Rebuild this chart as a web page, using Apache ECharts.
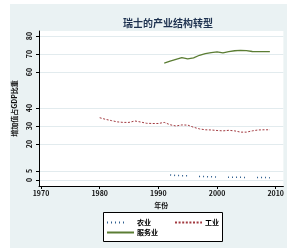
<!DOCTYPE html>
<html><head><meta charset="utf-8">
<script src="https://cdn.jsdelivr.net/npm/echarts@6/dist/echarts.min.js"></script>
<style>html,body{margin:0;padding:0;background:#fff}#c{width:287px;height:248px}</style>
</head><body><div id="c"></div>
<script>
const agriYears = [1992,1993,1994,1995,1996,1997,1998,1999,2000,2001,2002,2003,2004,2005,2006,2007,2008,2009];
const agriValues = [2.8,2.5,2.4,2.4,2.3,2.0,1.9,1.8,1.7,1.6,1.6,1.5,1.5,1.4,1.4,1.4,1.4,1.3];
const indYears = [1980,1981,1982,1983,1984,1985,1986,1987,1988,1989,1990,1991,1992,1993,1994,1995,1996,1997,1998,1999,2000,2001,2002,2003,2004,2005,2006,2007,2008,2009];
const indValues = [34.6,33.7,33.0,32.3,32.0,32.0,32.8,32.2,31.5,31.4,31.4,32.0,30.7,30.0,30.6,30.5,29.3,28.4,27.9,27.8,27.5,27.3,27.6,27.3,26.6,26.6,27.3,27.8,27.9,27.9];
const svcYears = [1991,1992,1993,1994,1995,1996,1997,1998,1999,2000,2001,2002,2003,2004,2005,2006,2007,2008,2009];
const svcValues = [65.0,66.0,67.0,68.0,67.3,67.8,69.3,70.2,70.8,71.2,70.6,71.3,71.8,72.0,71.9,71.4,71.3,71.3,71.3];
const yTicks = [0,5,20,30,40,60,70,80];
const xTicks = [1970,1980,1990,2000,2010];
const seriesNames = ['农业','工业','服务业'];
const titleText = '瑞士的产业结构转型';
const xName = '年份';
const yName = '增加值占GDP比重';

const pairs = (xs, vs) => xs.map((x, i) => [x, vs[i]]);
const font = '"Noto Sans CJK SC", "DejaVu Sans", sans-serif';
const chart = echarts.init(document.getElementById('c'), null, {renderer: 'canvas'});
const legendCommon = {
  orient: 'horizontal', itemWidth: 27, itemHeight: 6, itemGap: 23, padding: 0,
  itemStyle: {opacity: 0},
  textStyle: {fontFamily: font, fontSize: 7, color: '#000', fontWeight: 'bold', padding: [0,0,0,-2]}
};
chart.setOption({
  animation: false,
  backgroundColor: '#eaf2f3',
  graphic: [
    {type: 'rect', shape: {x: 0, y: 0, width: 287, height: 4}, style: {fill: '#fff'}, silent: true},
    {type: 'rect', shape: {x: 0, y: 0, width: 10, height: 248}, style: {fill: '#fff'}, silent: true},
    {type: 'rect', shape: {x: 103.5, y: 212.5, width: 119, height: 29}, style: {fill: '#fff', stroke: '#000', lineWidth: 1}, z: 0, silent: true}
  ],
  title: {
    text: titleText, left: 163, top: 13, textAlign: 'center',
    textStyle: {fontFamily: font, fontSize: 10, fontWeight: 'bold', color: '#1e3250'}
  },
  grid: {left: 39, right: 0, top: 31, bottom: 62, containLabel: false,
    show: true, backgroundColor: '#fff', borderWidth: 0},
  xAxis: {
    type: 'value', min: 1969.66, max: 2011.3,
    name: xName, nameLocation: 'middle', nameGap: 9,
    nameTextStyle: {fontFamily: font, fontSize: 7, color: '#111', fontWeight: 'bold'},
    axisLine: {show: true, onZero: false, lineStyle: {color: '#000', width: 1}},
    axisTick: {show: true, length: 3, customValues: xTicks, lineStyle: {color: '#000'}},
    axisLabel: {customValues: xTicks, margin: 4, formatter: v => String(v), fontFamily: font, fontSize: 7, color: '#111', fontWeight: 'bold'},
    splitLine: {show: false}
  },
  yAxis: {
    type: 'value', min: -3.33, max: 82.78,
    name: yName, nameLocation: 'middle', nameGap: 13, nameRotate: 90,
    nameTextStyle: {fontFamily: font, fontSize: 7, color: '#111', fontWeight: 'bold'},
    axisLine: {show: true, onZero: false, lineStyle: {color: '#000', width: 1}},
    axisTick: {show: true, length: 3, customValues: yTicks, lineStyle: {color: '#000'}},
    axisLabel: {customValues: yTicks, rotate: 90, margin: 6, formatter: v => String(v), fontFamily: font, fontSize: 7, color: '#111', fontWeight: 'bold'},
    splitLine: {show: true, lineStyle: {color: '#e2ebee', width: 1}}
  },
  legend: [
    Object.assign({data: [seriesNames[0], seriesNames[1]], left: 106, top: 219}, legendCommon),
    Object.assign({data: [seriesNames[2]], left: 106, top: 229}, legendCommon)
  ],
  series: [
    {name: seriesNames[0], type: 'line', data: pairs(agriYears, agriValues), showSymbol: false, symbol: 'none',
     lineStyle: {color: '#2f5f8f', width: 1.5, type: [1,3,1,3,1,3,1,3,1,12]}, itemStyle: {color: '#2f5f8f'}, z: 3},
    {name: seriesNames[1], type: 'line', data: pairs(indYears, indValues), showSymbol: false, symbol: 'none',
     lineStyle: {color: '#a23a40', width: 1, type: [2,1.6]}, itemStyle: {color: '#a23a40'}, z: 3},
    {name: seriesNames[2], type: 'line', data: pairs(svcYears, svcValues), showSymbol: false, symbol: 'none',
     lineStyle: {color: '#5b7d34', width: 1.3, type: 'solid'}, itemStyle: {color: '#5b7d34'}, z: 3}
  ]
});
</script></body></html>
